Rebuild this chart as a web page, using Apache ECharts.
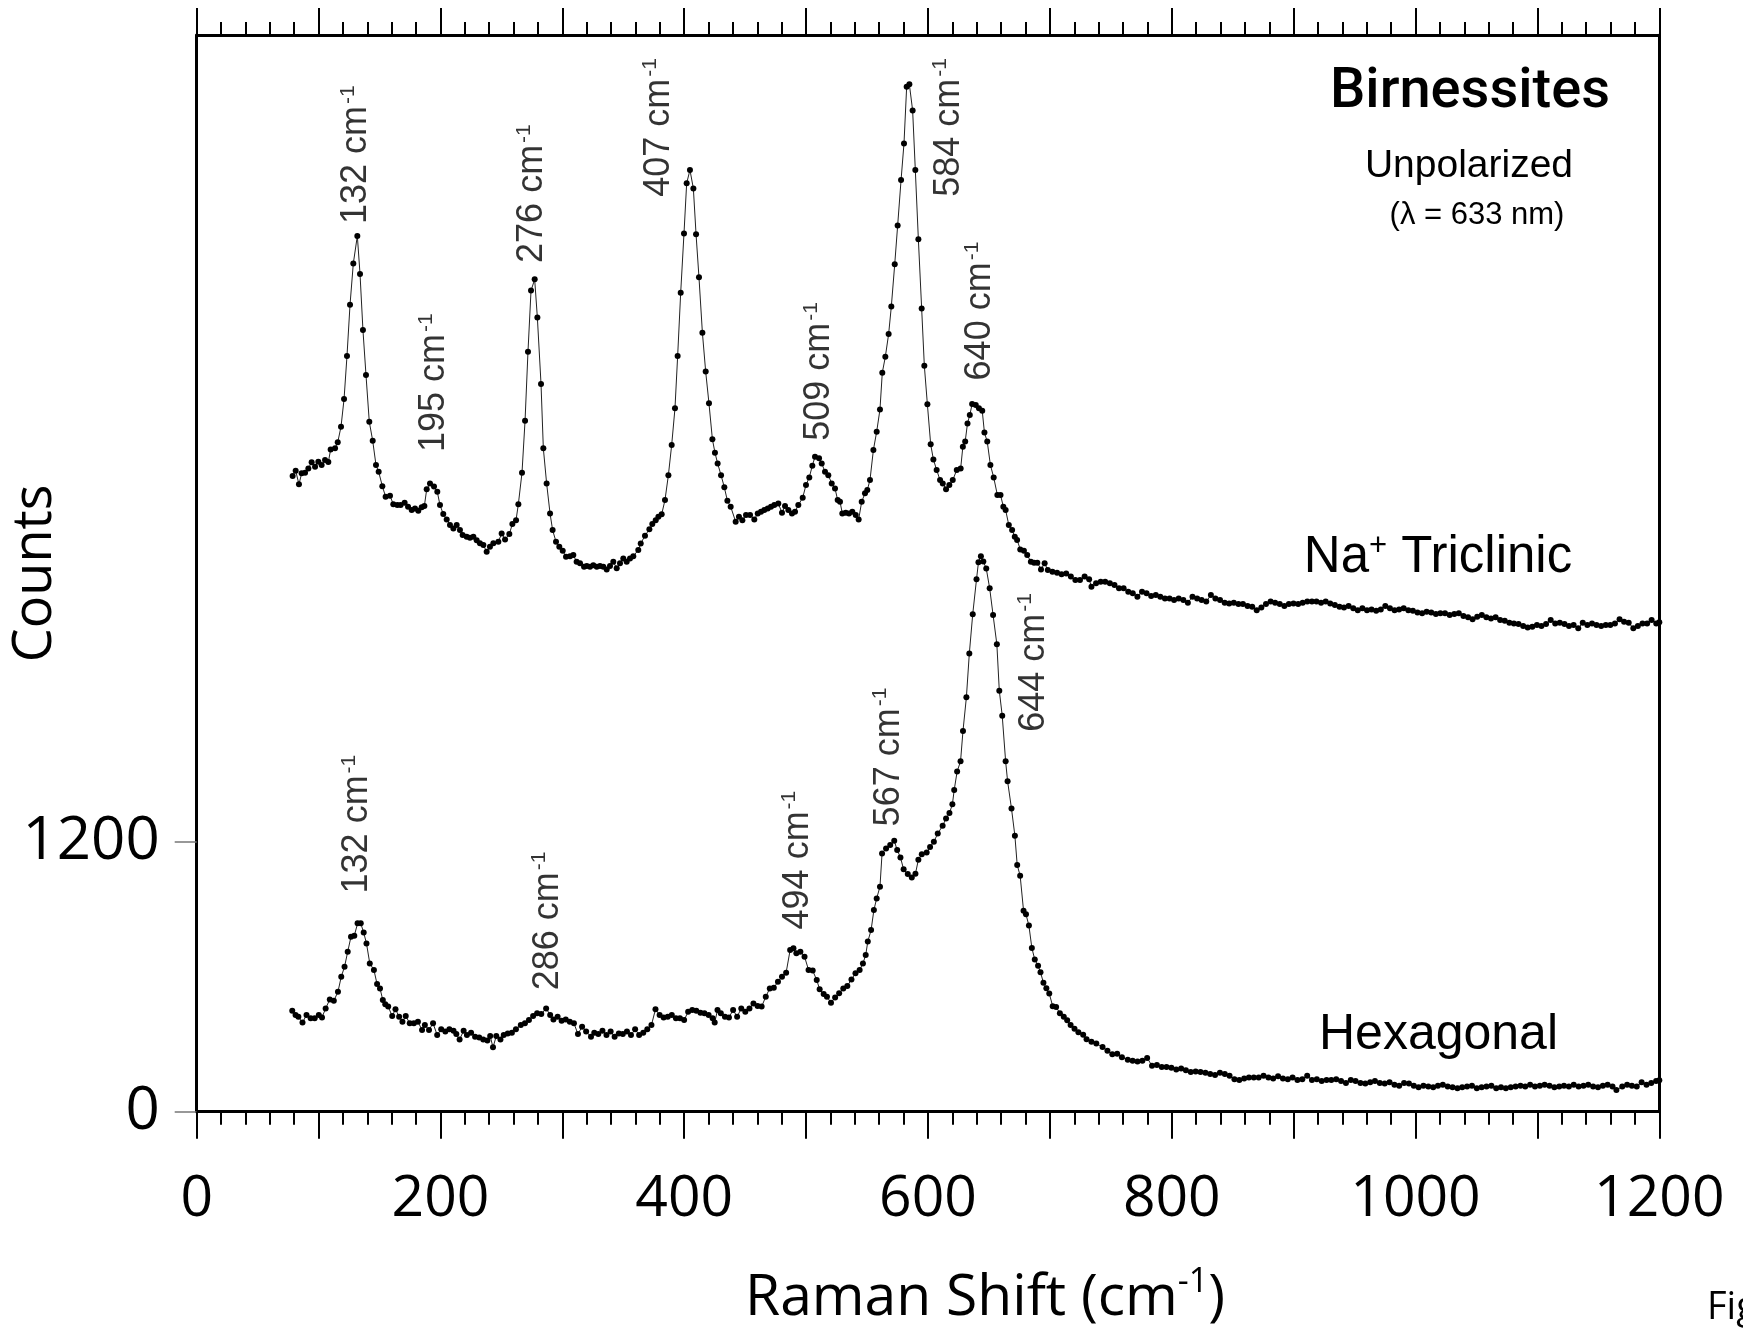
<!DOCTYPE html>
<html><head><meta charset="utf-8">
<script src="https://cdn.jsdelivr.net/npm/echarts@6/dist/echarts.min.js"></script>
<style>html,body{margin:0;padding:0;background:#fff}#c{width:1743px;height:1333px}</style>
</head><body><div id="c"></div>
<script>
// ---- DATA (Raman shift cm-1, counts) ----
const triclinic = [[78.7,2825],[81.2,2849],[83.9,2788],[86.1,2837],[88.9,2840],[91.6,2859],[94.3,2886],[97.1,2866],[99.8,2889],[102.5,2874],[105.3,2896],[108.0,2887],[109.9,2943],[113.5,2948],[115.7,2975],[118.4,3044],[120.9,3167],[123.3,3358],[125.8,3586],[128.5,3770],[131.8,3892],[134.0,3723],[136.4,3474],[138.9,3274],[141.6,3066],[144.4,2982],[147.1,2874],[149.3,2844],[152.3,2780],[155.0,2733],[158.6,2737],[161.3,2700],[164.6,2696],[167.3,2696],[170.6,2706],[173.4,2689],[176.4,2674],[179.1,2681],[181.8,2671],[184.6,2686],[186.8,2692],[188.7,2766],[191.4,2792],[194.7,2778],[197.4,2755],[199.6,2696],[202.3,2656],[205.1,2632],[207.8,2607],[210.6,2592],[213.3,2607],[216.0,2585],[218.2,2563],[221.5,2555],[224.2,2551],[227.0,2555],[229.7,2540],[232.4,2526],[235.2,2518],[237.9,2489],[240.6,2511],[243.4,2526],[247.5,2533],[250.2,2570],[253.0,2543],[256.5,2567],[259.0,2612],[262.0,2629],[263.9,2700],[266.9,2840],[269.4,3071],[271.8,3377],[274.3,3649],[277.3,3699],[279.5,3529],[282.5,3234],[284.4,2948],[287.1,2792],[289.9,2659],[292.0,2585],[294.8,2533],[297.5,2511],[300.3,2493],[303.0,2466],[306.3,2469],[309.0,2474],[311.7,2444],[314.5,2437],[317.8,2422],[320.0,2425],[322.7,2422],[325.4,2429],[328.2,2422],[330.9,2425],[333.6,2422],[336.4,2410],[339.1,2425],[341.8,2444],[344.6,2415],[347.3,2437],[350.0,2459],[352.8,2444],[355.5,2459],[358.2,2469],[362.3,2496],[364.3,2525],[367.8,2560],[371.4,2588],[373.8,2612],[376.6,2629],[378.8,2644],[381.5,2655],[384.2,2718],[387.0,2829],[389.7,2963],[392.4,3126],[394.6,3358],[397.1,3640],[399.8,3903],[402.0,4126],[404.7,4185],[407.5,4103],[409.7,3899],[412.1,3708],[414.9,3462],[417.6,3289],[420.3,3148],[423.1,2989],[425.2,2929],[427.4,2881],[430.2,2829],[432.9,2775],[435.4,2715],[438.1,2689],[442.2,2622],[444.9,2644],[447.7,2629],[450.7,2652],[454.0,2652],[457.5,2632],[460.3,2659],[463.0,2666],[465.7,2674],[468.5,2681],[471.2,2689],[473.9,2696],[477.2,2703],[480.2,2662],[482.7,2692],[485.4,2674],[488.4,2659],[490.9,2666],[493.6,2696],[497.2,2729],[499.9,2785],[502.6,2819],[505.1,2871],[507.3,2911],[510.6,2904],[512.8,2881],[515.5,2844],[518.2,2829],[521.0,2792],[523.7,2770],[525.9,2718],[527.8,2711],[529.7,2659],[532.5,2662],[535.2,2659],[537.9,2666],[540.7,2652],[543.1,2632],[545.6,2711],[548.3,2748],[550.2,2763],[552.4,2807],[555.2,2941],[557.9,3022],[560.6,3121],[562.5,3284],[565.0,3355],[567.7,3456],[569.9,3578],[572.7,3766],[575.1,3938],[577.9,4141],[580.3,4303],[582.5,4555],[584.7,4566],[587.4,4449],[589.6,4185],[592.1,3877],[594.8,3569],[597.0,3315],[599.5,3144],[602.2,2966],[604.4,2899],[607.1,2852],[609.9,2807],[612.1,2792],[614.8,2766],[617.5,2785],[620.3,2807],[623.6,2852],[626.8,2859],[628.6,2955],[630.5,2978],[632.4,3059],[634.3,3096],[636.2,3145],[639.2,3141],[641.8,3126],[644.5,3115],[646.3,3018],[648.6,2978],[651.2,2874],[653.9,2819],[656.9,2741],[659.5,2741],[661.8,2689],[663.7,2674],[666.3,2607],[669.0,2585],[671.2,2555],[673.1,2541],[675.7,2499],[678.7,2493],[681.4,2474],[684.4,2444],[687.0,2440],[689.7,2440],[692.7,2410],[695.7,2437],[698.3,2407],[702.1,2400],[705.9,2395],[709.6,2389],[713.4,2392],[717.2,2378],[720.9,2363],[724.7,2363],[728.5,2378],[732.2,2366],[734.1,2333],[737.9,2348],[741.7,2355],[745.4,2355],[749.2,2348],[753.0,2341],[756.7,2326],[760.5,2326],[764.3,2311],[768.0,2304],[771.8,2289],[775.6,2311],[779.3,2304],[783.1,2292],[786.9,2296],[790.6,2289],[794.4,2281],[798.2,2281],[801.9,2274],[805.7,2281],[809.5,2274],[813.2,2262],[817.0,2289],[820.8,2281],[824.5,2274],[828.3,2267],[832.1,2296],[835.8,2281],[839.6,2274],[843.4,2262],[847.1,2259],[850.9,2262],[854.7,2256],[858.4,2256],[862.2,2247],[866.0,2244],[869.7,2229],[873.5,2241],[877.3,2256],[881.1,2267],[884.8,2262],[888.6,2256],[892.4,2247],[896.1,2256],[899.9,2259],[903.7,2256],[907.4,2262],[911.2,2267],[915.0,2267],[918.7,2267],[922.5,2262],[926.3,2267],[930.0,2259],[933.8,2252],[937.6,2244],[941.3,2241],[945.1,2247],[948.9,2237],[952.6,2229],[956.4,2237],[960.2,2229],[963.9,2232],[967.7,2226],[971.5,2232],[975.2,2247],[979.0,2237],[982.8,2229],[986.5,2232],[990.3,2237],[994.1,2229],[997.8,2226],[1001.6,2218],[1005.4,2215],[1009.1,2222],[1012.9,2218],[1016.7,2212],[1020.4,2215],[1024.2,2215],[1028.0,2207],[1031.8,2212],[1035.5,2215],[1039.3,2203],[1043.1,2197],[1046.8,2188],[1050.6,2200],[1054.4,2207],[1058.1,2197],[1061.9,2192],[1065.7,2197],[1069.4,2185],[1073.2,2182],[1077.0,2173],[1080.7,2170],[1084.5,2167],[1088.3,2158],[1092.0,2152],[1095.8,2155],[1099.6,2163],[1103.3,2158],[1107.1,2167],[1110.9,2185],[1114.6,2170],[1118.4,2173],[1122.2,2167],[1125.9,2158],[1129.7,2163],[1133.5,2148],[1137.2,2173],[1141.0,2163],[1144.8,2170],[1148.5,2163],[1152.3,2158],[1156.1,2163],[1159.8,2163],[1163.6,2170],[1167.4,2188],[1171.1,2177],[1174.9,2173],[1178.7,2148],[1182.4,2158],[1186.2,2170],[1190.0,2170],[1193.7,2185],[1197.5,2170],[1200.0,2175]];

const hexagonal = [[78.4,449],[81.1,430],[83.4,422],[86.8,396],[90.1,430],[93.5,415],[96.8,415],[100.2,430],[102.8,419],[105.8,459],[109.2,499],[112.5,493],[115.9,533],[118.6,600],[121.3,644],[123.9,711],[126.6,778],[129.3,782],[132.0,837],[134.6,837],[137.0,796],[139.3,748],[142.0,659],[145.4,630],[148.0,567],[150.4,548],[152.7,496],[154.7,477],[157.1,467],[160.4,425],[163.1,455],[166.1,422],[168.8,400],[171.5,425],[174.8,393],[178.2,393],[181.5,400],[184.9,363],[187.2,385],[190.6,363],[193.9,393],[197.3,341],[200.6,366],[204.0,356],[207.3,366],[210.7,360],[213.0,345],[215.7,321],[219.0,360],[221.7,341],[225.1,351],[228.4,333],[231.8,330],[235.1,321],[238.5,316],[240.8,336],[243.1,286],[245.8,336],[249.2,321],[251.9,341],[255.2,348],[258.6,351],[261.9,366],[265.9,385],[269.3,393],[272.6,407],[276.0,425],[279.3,437],[282.7,434],[286.7,459],[290.0,430],[292.7,410],[296.1,422],[299.4,404],[302.8,410],[306.1,400],[309.5,393],[312.8,345],[316.2,378],[319.5,356],[323.5,333],[326.2,351],[329.5,345],[332.9,360],[336.2,341],[339.6,356],[342.9,333],[346.3,348],[349.6,345],[353.0,356],[356.3,341],[359.7,366],[363.0,341],[366.4,351],[369.7,366],[373.1,385],[376.4,455],[379.8,430],[383.1,419],[386.5,422],[389.8,430],[393.2,415],[396.5,415],[399.9,407],[403.2,444],[406.6,452],[409.9,449],[413.3,440],[416.6,437],[420.0,430],[423.3,415],[425.0,396],[427.3,452],[430.0,437],[433.4,422],[436.7,419],[440.1,452],[443.4,422],[446.8,459],[450.1,444],[453.5,459],[456.8,481],[460.2,470],[463.5,467],[466.9,511],[470.2,548],[473.5,551],[476.9,578],[480.2,600],[483.6,618],[486.9,719],[489.6,726],[492.0,704],[495.3,711],[498.7,689],[502.0,630],[505.4,627],[508.7,585],[511.1,544],[514.4,523],[517.1,511],[520.4,484],[523.8,508],[527.1,526],[530.5,548],[533.8,559],[537.2,588],[540.5,615],[543.9,630],[546.6,659],[548.9,696],[550.6,756],[553.3,807],[555.6,896],[557.9,948],[560.6,1000],[562.3,1148],[565.6,1170],[569.0,1185],[572.3,1204],[574.7,1163],[577.4,1130],[580.0,1077],[583.4,1056],[586.7,1041],[589.7,1057],[592.1,1120],[594.9,1144],[598.9,1152],[601.7,1176],[604.8,1200],[608.0,1236],[612.0,1271],[614.8,1303],[617.6,1327],[620.0,1366],[621.5,1430],[623.9,1512],[626.7,1557],[628.7,1692],[631.5,1842],[633.9,2036],[636.7,2211],[639.8,2366],[641.4,2442],[643.4,2469],[645.4,2445],[647.8,2414],[650.6,2326],[653.4,2207],[656.5,2077],[658.5,1871],[660.9,1760],[663.7,1557],[665.3,1469],[668.5,1347],[671.3,1226],[673.2,1096],[675.6,1049],[678.4,893],[680.4,877],[682.8,827],[685.2,728],[687.6,676],[690.3,649],[692.3,620],[694.7,573],[697.1,549],[699.5,525],[702.3,469],[705.1,465],[708.2,438],[711.4,422],[714.2,406],[717.0,385],[720.2,369],[723.4,353],[727.3,342],[730.1,322],[734.1,311],[738.1,303],[743.2,287],[747.2,271],[751.2,255],[755.2,258],[759.1,242],[763.9,231],[767.9,226],[771.9,223],[775.9,226],[779.8,239],[783.8,204],[787.8,207],[791.8,199],[795.7,199],[799.7,195],[803.7,188],[807.7,192],[811.6,184],[815.6,176],[819.6,179],[823.6,176],[827.6,173],[831.5,168],[835.5,163],[839.5,173],[843.5,168],[847.4,160],[851.4,144],[855.4,141],[859.4,147],[863.3,152],[867.3,152],[871.3,152],[875.3,160],[879.3,152],[883.2,147],[887.2,157],[891.2,147],[895.2,144],[899.1,152],[903.1,141],[907.1,144],[911.1,160],[915.0,141],[919.0,144],[923.0,136],[927.0,141],[930.9,141],[934.9,144],[938.9,136],[942.9,128],[946.9,141],[950.8,136],[954.8,128],[958.8,125],[962.8,131],[966.7,136],[970.7,128],[974.7,125],[978.7,131],[982.7,120],[986.6,115],[990.6,128],[994.6,125],[998.6,115],[1002.5,109],[1006.5,115],[1010.5,112],[1014.5,109],[1018.4,115],[1022.4,120],[1026.4,112],[1030.4,109],[1034.4,104],[1038.3,109],[1042.3,112],[1046.3,115],[1050.3,104],[1054.2,109],[1058.2,112],[1062.2,115],[1066.2,104],[1070.1,109],[1074.1,104],[1078.1,109],[1082.1,112],[1086.1,115],[1090.0,112],[1094.0,120],[1098.0,112],[1102.0,115],[1105.9,120],[1109.9,115],[1113.9,109],[1117.9,112],[1121.8,115],[1125.8,112],[1129.8,120],[1133.8,112],[1137.8,115],[1141.7,120],[1145.7,112],[1149.7,109],[1153.7,115],[1157.6,120],[1161.6,112],[1164.8,96],[1169.6,112],[1173.6,120],[1177.5,115],[1181.5,112],[1185.5,131],[1189.5,120],[1193.4,128],[1197.4,136],[1200.0,140]];

const xTickLabels = [0, 200, 400, 600, 800, 1000, 1200];
const yTickLabels = [0, 1200];

// peak annotations: label text and its anchor in data space
const triPeakNames = ['132', '195', '276', '407', '509', '584', '640'];
const triPeakAnchors = [[130.5, 3945], [194.5, 2932], [275.0, 3772], [379.0, 4066], [510.6, 2982], [616.5, 4066], [642.7, 3250]];
const hexPeakNames = ['132', '286', '494', '567', '644'];
const hexPeakAnchors = [[131.5, 970], [287.7, 540], [493.0, 810], [567.5, 1268], [686.7, 1688]];

// ---- CHART ----
const chart = echarts.init(document.getElementById('c'), null, {renderer: 'canvas'});
const AX = '#000';
const labelFont = 'Liberation Sans, Arial, sans-serif';
const axisFont = 'Open Sans, Noto Sans, sans-serif';

function peakSeries(names, anchors) {
  return {
    type: 'scatter',
    symbolSize: 0,
    silent: true,
    z: 5,
    data: anchors.map((a, i) => ({value: [a[0], a[1]], name: names[i]})),
    label: {
      show: true,
      position: 'inside',
      rotate: 90,
      align: 'left',
      verticalAlign: 'middle',
      formatter: p => '{n|' + p.name + ' cm}{s|-1}',
      rich: {
        n: {fontSize: 36, fontFamily: labelFont, color: '#000', verticalAlign: 'bottom', lineHeight: 37},
        s: {fontSize: 21, fontFamily: labelFont, color: '#000', verticalAlign: 'top', lineHeight: 21, padding: [0, 0, 0, 2]}
      }
    }
  };
}

function spectrum(name, data) {
  return {
    name: name,
    type: 'line',
    data: data,
    symbol: 'circle',
    symbolSize: 6,
    showSymbol: true,
    showAllSymbol: true,
    clip: false,
    itemStyle: {color: '#000'},
    lineStyle: {color: '#222', width: 1},
    emphasis: {disabled: true},
    z: 3
  };
}

const xCommon = {
  type: 'value', min: 0, max: 1200, interval: 100,
  splitLine: {show: false}, minorSplitLine: {show: false},
  axisLine: {show: true, onZero: false, lineStyle: {color: AX, width: 3}},
  axisTick: {show: true, inside: false, length: 27, lineStyle: {color: AX, width: 2}},
  minorTick: {show: true, splitNumber: 5, length: 13, lineStyle: {color: AX, width: 2}}
};

const option = {
  animation: false,
  backgroundColor: '#fff',
  grid: {left: 196.7, right: 83.7, top: 35, bottom: 221.3, containLabel: false, outerBoundsMode: 'none'},
  xAxis: [
    Object.assign({}, xCommon, {
      position: 'bottom',
      axisLabel: {
        show: true, margin: 60, fontSize: 57, fontFamily: axisFont, color: '#000',
        formatter: v => (xTickLabels.indexOf(v) >= 0 ? String(v) : '')
      }
    }),
    Object.assign({}, xCommon, {position: 'top', axisLabel: {show: false}})
  ],
  yAxis: [
    {
      type: 'value', min: 0, max: 4785, interval: 1200, position: 'left',
      axisLine: {show: true, onZero: false, lineStyle: {color: AX, width: 3}},
      axisTick: {show: false}, axisLabel: {show: false}, splitLine: {show: false},
      name: 'Counts', nameLocation: 'middle', nameRotate: 90, nameGap: 134,
      nameTextStyle: {fontSize: 54, fontFamily: axisFont, color: '#000'}
    },
    {
      type: 'value', min: 0, max: 4785, interval: 1200, position: 'left', offset: 5,
      axisLine: {show: false},
      axisTick: {show: true, length: 22, customValues: yTickLabels, lineStyle: {color: '#777', width: 1.5}},
      axisLabel: {show: true, margin: 32, customValues: yTickLabels, fontSize: 60, fontFamily: axisFont, color: '#000',
        formatter: v => (yTickLabels.indexOf(v) >= 0 ? String(v) : '')},
      splitLine: {show: false}
    },
    {
      type: 'value', min: 0, max: 4785, position: 'right',
      axisLine: {show: true, onZero: false, lineStyle: {color: AX, width: 3}},
      axisTick: {show: false}, axisLabel: {show: false}, splitLine: {show: false}
    }
  ],
  series: [
    spectrum('Na+ Triclinic', triclinic),
    spectrum('Hexagonal', hexagonal),
    peakSeries(triPeakNames, triPeakAnchors),
    peakSeries(hexPeakNames, hexPeakAnchors)
  ],
  graphic: [
    {type: 'text', x: 1470, y: 93, style: {text: 'Birnessites', fontSize: 56, fontWeight: 500, fontFamily: 'Roboto, sans-serif', fill: '#000', align: 'center', verticalAlign: 'middle'}},
    {type: 'text', x: 1469, y: 166, style: {text: 'Unpolarized', fontSize: 39, fontFamily: labelFont, fill: '#000', align: 'center', verticalAlign: 'middle'}},
    {type: 'text', x: 1477, y: 215, style: {text: '(\u03bb = 633 nm)', fontSize: 31, fontFamily: labelFont, fill: '#000', align: 'center', verticalAlign: 'middle'}},
    {type: 'text', x: 1438, y: 557, style: {text: '{n|Na}{s|+}{n| Triclinic}', align: 'center', verticalAlign: 'middle', fill: '#000',
      rich: {n: {fontSize: 51, fontFamily: labelFont, verticalAlign: 'bottom', lineHeight: 53}, s: {fontSize: 31, fontFamily: labelFont, verticalAlign: 'top', lineHeight: 31}}}},
    {type: 'text', x: 1438.5, y: 1035, style: {text: 'Hexagonal', fontSize: 50, fontFamily: labelFont, fill: '#000', align: 'center', verticalAlign: 'middle'}},
    {type: 'text', x: 985, y: 1296, style: {text: '{n|Raman Shift (cm}{s|-1}{n|)}', align: 'center', verticalAlign: 'middle', fill: '#000',
      rich: {n: {fontSize: 57, fontFamily: axisFont, verticalAlign: 'bottom', lineHeight: 62}, s: {fontSize: 34, fontFamily: axisFont, verticalAlign: 'top', lineHeight: 34}}}},
    {type: 'text', x: 1707, y: 1308, style: {text: 'Fig', fontSize: 38, fontFamily: axisFont, fill: '#000', align: 'left', verticalAlign: 'middle'}}
  ]
};
chart.setOption(option);
</script>
</body></html>
